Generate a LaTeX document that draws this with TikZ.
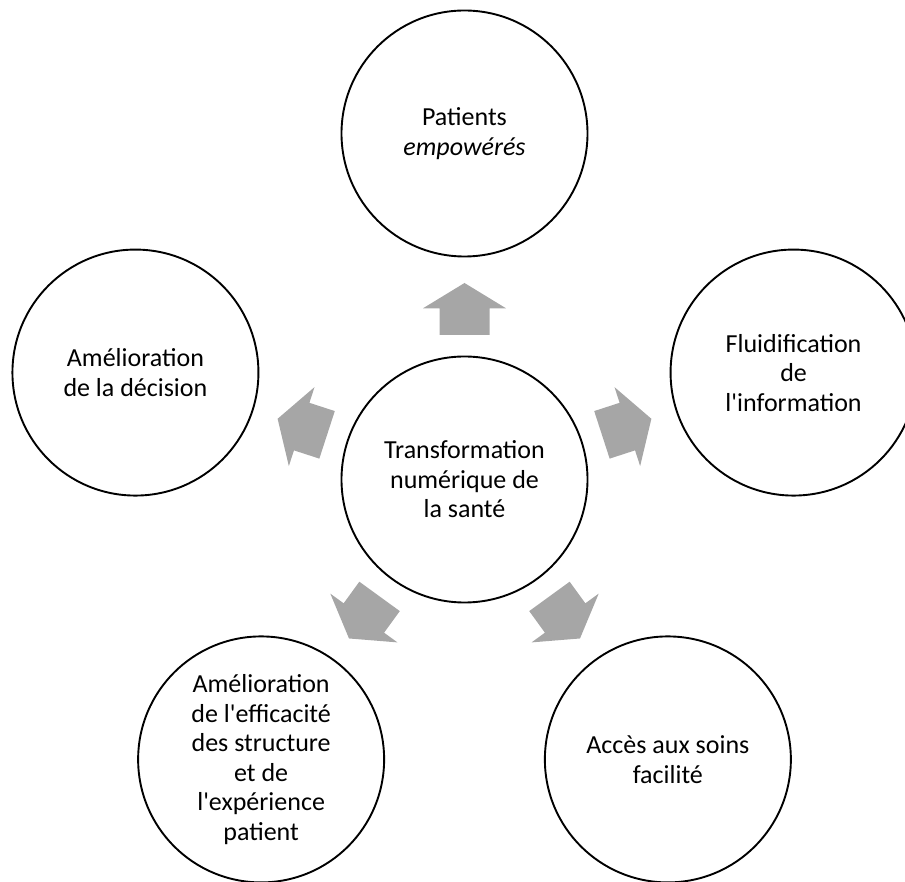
\documentclass[tikz,border=0pt]{standalone}
\usepackage{fontspec}
\setmainfont{Carlito}
\usetikzlibrary{calc}
\definecolor{arrowgray}{RGB}{166,166,166}
\newcommand{\apos}{\textquotesingle}
\tikzset{
  bubble/.style={circle, draw=black, line width=1.9pt, minimum size=246pt, inner sep=0pt,
    align=center, font=\fontsize{26pt}{29.5pt}\selectfont},
  radarrow/.style={fill=arrowgray, draw=none}
}
\begin{document}
\begin{tikzpicture}[x=1pt,y=1pt]
\useasboundingbox (0,0) rectangle (905,881);
\coordinate (o) at (464.5,401.5);
\node[bubble] (c) at (o) {Transformation\\num\'erique de\\la sant\'e};
\node[bubble] (top) at ($(o)+(90:346)$) {Patients\\\textit{empow\'er\'es}};
\node[bubble] (right) at ($(o)+(18:346)$) {Fluidification\\de\\l\apos information};
\node[bubble] (bright) at ($(o)+(306:346)$) {Acc\`es aux soins\\facilit\'e};
\node[bubble] (bleft) at ($(o)+(234:346)$) {Am\'elioration\\de l\apos efficacit\'e\\des structure\\et de\\l\apos exp\'erience\\patient};
\node[bubble] (left) at ($(o)+(162:346)$) {Am\'elioration\\de la d\'ecision};
\foreach \r in {0,-72,-144,144,72}{
  \begin{scope}[shift={(c.center)}, rotate=\r]
    \fill[radarrow] (0,196.5) -- (41.5,171.2) -- (25,171.2) -- (25,144.5)
      -- (-25,144.5) -- (-25,171.2) -- (-41.5,171.2) -- cycle;
  \end{scope}
}
\end{tikzpicture}
\end{document}
